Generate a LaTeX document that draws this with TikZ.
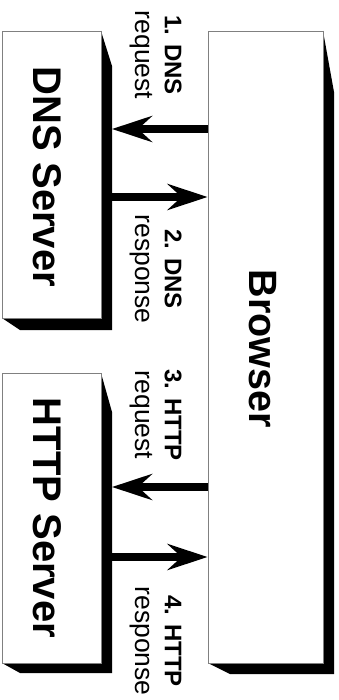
\documentclass[tikz,border=0pt]{standalone}
\usepackage{fontspec}
\setmainfont{Liberation Sans}
\usetikzlibrary{arrows.meta}
\begin{document}
\begin{tikzpicture}[x=1pt,y=-1pt,
  box/.style={draw=gray,line width=0.8pt,fill=white,inner sep=0pt},
  boxtext/.style={rotate=-90,inner sep=0pt,font=\fontsize{40}{40}\selectfont\bfseries},
  steplabel/.style={rotate=-90,align=center,inner sep=0pt,font=\fontsize{26.5}{29}\selectfont},
  msg/.style={line width=8pt,-{Stealth[length=40pt,width=26pt,inset=14pt]}}]
\useasboundingbox (0,0) rectangle (338,700);
% shadows
\fill (323,31) -- (334,92) -- (334,674) -- (230,674) -- (208,663) -- (323,663) -- cycle;
\fill (101,31) -- (112,66) -- (112,330) -- (20,330) -- (2,318) -- (101,318) -- cycle;
\fill (101,373) -- (112,412) -- (112,673) -- (20,673) -- (2,663) -- (101,663) -- cycle;
% boxes
\node[box,minimum width=115pt,minimum height=632pt] (browser) at (265.5,347) {};
\node[box,minimum width=99pt,minimum height=287pt] (dns) at (51.5,174.5) {};
\node[box,minimum width=99pt,minimum height=290pt] (http) at (51.5,518) {};
\node[boxtext,font=\fontsize{39.5}{40}\selectfont\bfseries] (browsertext) at (263,349) {Browser};
\node[boxtext] (dnstext) at (47,177) {DNS Server};
\node[boxtext] (httptext) at (47,518) {HTTP Server};
% shadow edges where the arrows end
\coordinate (dnsin) at (112,129);
\coordinate (dnsout) at (112,197);
\coordinate (httpin) at (112,487);
\coordinate (httpout) at (112,557);
\draw[msg] (browser.west |- dnsin) -- (dnsin);
\draw[msg] (dnsout) -- (browser.west |- dnsout);
\draw[msg] (browser.west |- httpin) -- (httpin);
\draw[msg] (httpout) -- (browser.west |- httpout);
% labels
\node[steplabel] (dnsreq) at (156,55) {{\fontsize{24}{29}\selectfont\bfseries 1. DNS}\\request};
\node[steplabel] (dnsres) at (156,269) {{\fontsize{24}{29}\selectfont\bfseries 2. DNS}\\response};
\node[steplabel] (httpreq) at (156,415) {{\fontsize{24}{29}\selectfont\bfseries 3. HTTP}\\request};
\node[steplabel] (httpres) at (156,641) {{\fontsize{24}{29}\selectfont\bfseries 4. HTTP}\\response};
\end{tikzpicture}
\end{document}
